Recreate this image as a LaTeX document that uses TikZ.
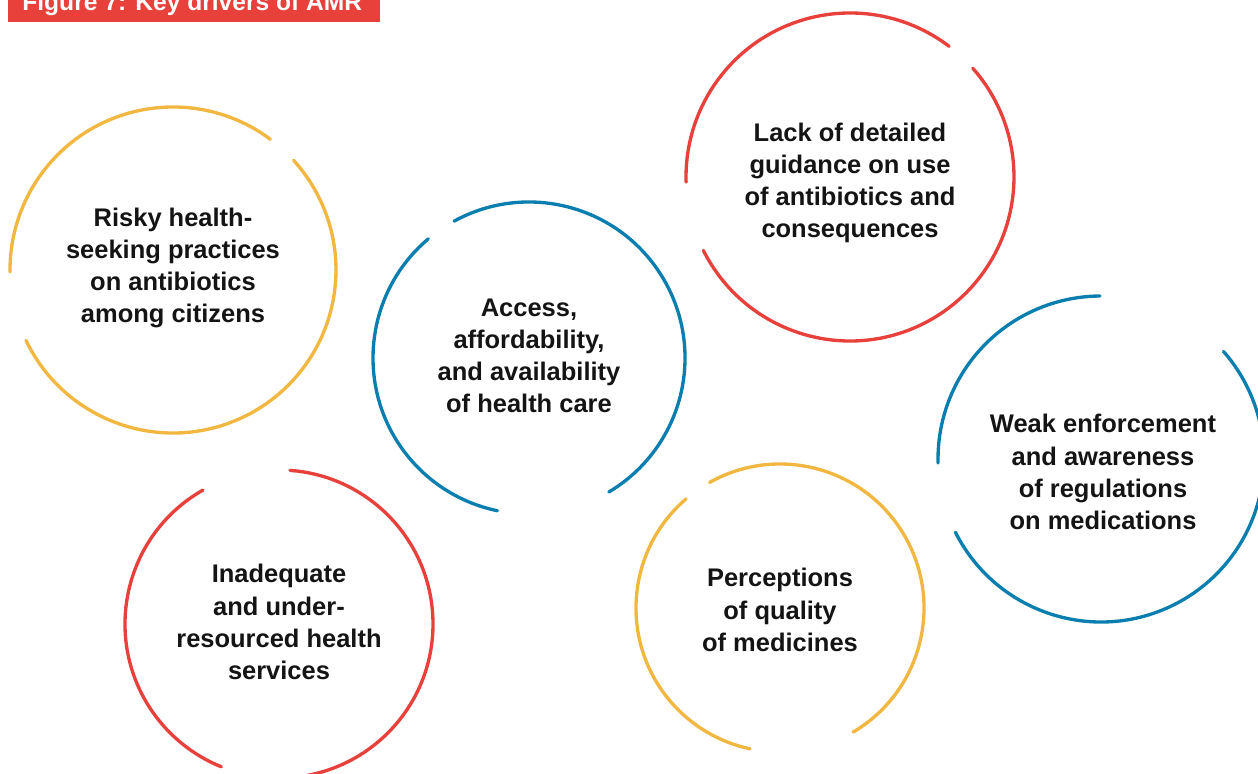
\documentclass[tikz,border=0pt]{standalone}
\usepackage{fontspec}
\setmainfont{Liberation Sans}
\usepackage{tikz}
\usetikzlibrary{positioning}
\definecolor{amrred}{RGB}{232,64,58}
\definecolor{amryellow}{RGB}{242,183,64}
\definecolor{amrblue}{RGB}{10,127,175}

\begin{document}
\begin{tikzpicture}[
        x=0.02cm, y=0.02cm,
        driver/.style={
            align=center,
            text=black!92,
            font=\fontsize{14.5}{18.3}\selectfont\bfseries
        },
        ring/.style={
            line width=1.9pt,
            line cap=round
        },
        heading/.style={
            anchor=base west,
            text=white,
            inner sep=0pt,
            font=\fontsize{14}{17}\selectfont\bfseries
        }
    ]
    \useasboundingbox (0,0) rectangle (1258,774);

    % Title bar
    \fill [amrred] (8,752) rectangle (380,790);
    \node [heading] (title) at (22,763) {Figure 7: Key drivers of AMR};

    % Drivers
    \node [driver] (risky) at (173,506) {Risky health-\\seeking practices\\on antibiotics\\among citizens};
    \node [driver] (access) at (529,418) {Access,\\affordability,\\and availability\\of health care};
    \node [driver] (guidance) at (850,591) {Lack of detailed\\guidance on use\\of antibiotics and\\consequences};
    \node [driver] (enforce) at (1103,302) {Weak enforcement\\and awareness\\of regulations\\on medications};
    \node [driver] (services) at (279,152) {Inadequate\\and under-\\resourced health\\services};
    \node [driver] (quality) at (780,164) {Perceptions\\of quality\\of medicines};

    % Broken rings: centre / radius / colour / two arcs
    \foreach \cx/\cy/\r/\col/\a/\b/\c/\d in {
        173/504/163/amryellow/205.6/402.3/53.3/180.7,
        529/416/156/amrblue/130.2/258.3/300.8/478.7,
        850/597/164/amrred/206.6/401.5/52.8/181.8,
        1101/315/163/amrblue/206.7/401.3/90.4/181.4,
        279/150/154/amrred/119.6/248/272/445.9,
        780/166/144/amryellow/130.7/258/300.5/479.3}
    {
        \draw [ring, \col] (\cx,\cy) ++(\a:\r) arc [start angle=\a, end angle=\b, radius=\r];
        \draw [ring, \col] (\cx,\cy) ++(\c:\r) arc [start angle=\c, end angle=\d, radius=\r];
    }

\end{tikzpicture}
\end{document}
